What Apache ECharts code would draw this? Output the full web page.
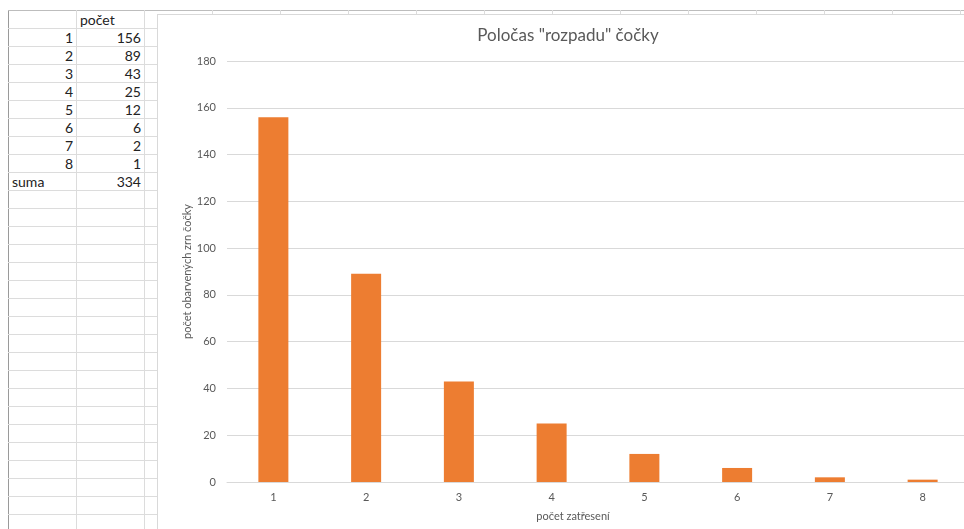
<!DOCTYPE html>
<html>
<head>
<meta charset="utf-8">
<script src="https://cdn.jsdelivr.net/npm/echarts@6/dist/echarts.min.js"></script>
<style>
  html, body { margin: 0; padding: 0; width: 964px; height: 529px; overflow: hidden; background: #fff; }
  #sheet { position: absolute; left: 8px; top: 10px; border-collapse: collapse; table-layout: fixed;
           font-family: Lato, "Open Sans", sans-serif; font-size: 14px; color: #222; }
  #sheet td { width: 68px; min-width: 68px; max-width: 68px; height: 18px; padding: 0 3px; border: 1px solid #dcdcdc; box-sizing: border-box;
              white-space: nowrap; overflow: hidden; line-height: 17px; }
  #sheet tr td:first-child { border-left: 1px solid #9a9a9a; }
  #sheet tr:first-child td { border-top: 1px solid #bdbdbd; }
  #sheet td.num { text-align: right; }
  #chart { position: absolute; left: 157px; top: 14px; width: 820px; height: 520px;
           background: #fff; border: 1px solid #d9d9d9; }
</style>
</head>
<body>
<table id="sheet"></table>
<div id="chart"></div>
<script>
// ---- data ----
const categories = ['1', '2', '3', '4', '5', '6', '7', '8'];
const counts = [156, 89, 43, 25, 12, 6, 2, 1];
const headerLabel = 'počet';
const sumLabel = 'suma';
const chartTitle = 'Poločas "rozpadu" čočky';
const xAxisName = 'počet zatřesení';
const yAxisName = 'počet obarvených zrn čočky';

// ---- spreadsheet ----
const sheet = document.getElementById('sheet');
const nCols = 15, nRows = 29;
const total = counts.reduce((a, b) => a + b, 0);
for (let r = 0; r < nRows; r++) {
  const tr = document.createElement('tr');
  for (let c = 0; c < nCols; c++) {
    const td = document.createElement('td');
    if (r === 0 && c === 1) td.textContent = headerLabel;
    if (r >= 1 && r <= categories.length) {
      if (c === 0) { td.textContent = categories[r - 1]; td.className = 'num'; }
      if (c === 1) { td.textContent = counts[r - 1]; td.className = 'num'; }
    }
    if (r === categories.length + 1) {
      if (c === 0) td.textContent = sumLabel;
      if (c === 1) { td.textContent = total; td.className = 'num'; }
    }
    tr.appendChild(td);
  }
  sheet.appendChild(tr);
}

// ---- chart ----
const chart = echarts.init(document.getElementById('chart'), null, { renderer: 'canvas' });
const txt = '#595959';
const font = 'Lato, "Open Sans", sans-serif';
chart.setOption({
  animation: false,
  textStyle: { fontFamily: font },
  title: {
    text: chartTitle, left: 'center', top: 7,
    textStyle: { fontFamily: font, fontSize: 17, fontWeight: 'normal', color: txt }
  },
  grid: { left: 69, right: 9, top: 46, bottom: 53 },
  xAxis: {
    type: 'category', data: categories,
    axisLine: { lineStyle: { color: '#d9d9d9' } },
    axisTick: { show: false },
    axisLabel: { color: txt, fontSize: 11, margin: 10, fontFamily: font },
    name: xAxisName, nameLocation: 'middle', nameGap: 29, nameMoveOverlap: false,
    nameTextStyle: { color: txt, fontSize: 11, fontFamily: font, padding: [0, 50, 0, 0] }
  },
  yAxis: {
    type: 'value', min: 0, max: 180, interval: 20,
    axisLine: { show: false }, axisTick: { show: false },
    splitLine: { lineStyle: { color: '#d9d9d9' } },
    axisLabel: { color: txt, fontSize: 11, margin: 11, fontFamily: font },
    name: yAxisName, nameLocation: 'middle', nameGap: 34, nameMoveOverlap: false,
    nameTextStyle: { color: txt, fontSize: 11, fontFamily: font }
  },
  series: [{
    type: 'bar', data: counts, barWidth: 30,
    itemStyle: { color: '#ED7D31' }
  }]
});
</script>
</body>
</html>
